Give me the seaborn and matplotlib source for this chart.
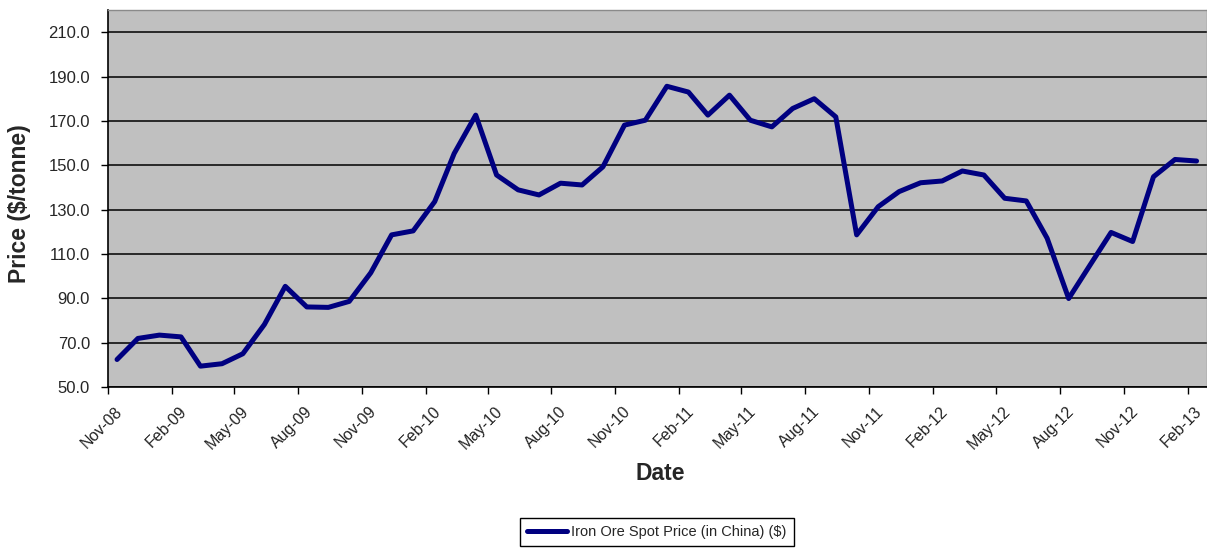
import pandas as pd
import seaborn as sns
import matplotlib.pyplot as plt
import matplotlib.dates as mdates
import matplotlib.transforms as mtransforms
from matplotlib.ticker import FormatStrFormatter

sns.set_style('white')
plt.rcParams['font.family'] = ['Liberation Sans', 'DejaVu Sans']

# monthly iron ore spot price, Nov-08 .. Feb-13
months = pd.date_range('2008-11-01', '2013-02-01', freq='MS') + pd.Timedelta(days=13)
prices = [62.4, 71.9, 73.4, 72.6, 59.4, 60.5, 65.0, 78.2, 95.4, 86.1,
          85.9, 88.6, 101.5, 118.6, 120.4, 133.6, 155.3, 172.6, 145.6, 138.9,
          136.6, 141.9, 141.1, 149.3, 168.1, 170.3, 185.6, 183.0, 172.6, 181.6,
          170.3, 167.3, 175.6, 180.0, 171.8, 118.6, 131.3, 138.1, 142.1, 142.9,
          147.4, 145.6, 135.1, 133.9, 117.1, 89.9, 105.1, 119.7, 115.6, 144.8,
          152.6, 151.9]
series_name = 'Iron Ore Spot Price (in China) ($)'

df = pd.DataFrame({'Date': months, 'Price': prices})

fig = plt.figure(figsize=(12.07, 5.5), dpi=100)
ax = fig.add_axes([108 / 1207, 1 - 387 / 550, 1 - 108 / 1207, 377 / 550])
ax.set_facecolor('#C0C0C0')

sns.lineplot(data=df, x='Date', y='Price', ax=ax, color='#000080',
             linewidth=3.6, label=series_name, legend=False)

ax.set_ylim(50, 220)
ax.set_xlim(pd.Timestamp('2008-11-01'), pd.Timestamp('2013-03-01'))
ax.set_yticks(range(50, 211, 20))
ax.yaxis.set_major_formatter(FormatStrFormatter('%.1f'))
ax.xaxis.set_major_locator(mdates.MonthLocator(bymonth=[2, 5, 8, 11], bymonthday=1))
ax.xaxis.set_major_formatter(mdates.DateFormatter('%b-%y'))

ax.grid(axis='y', color='black', linewidth=1.1)
ax.set_axisbelow(True)
for s in ['left', 'bottom']:
    ax.spines[s].set_color('black')
    ax.spines[s].set_linewidth(1.2)
for s in ['top', 'right']:
    ax.spines[s].set_color('#8a8a8a')
    ax.spines[s].set_linewidth(1.0)

ax.tick_params(axis='y', direction='out', length=5, width=1, color='black',
               labelsize=12, pad=8, left=True)
ax.tick_params(axis='x', direction='out', length=5, width=1, color='black',
               labelsize=11.5, pad=7, bottom=True, labelcolor='#222222')
# nudge rotated date labels a little right, like Excel does
shift = mtransforms.ScaledTranslation(7 / 100, 0, fig.dpi_scale_trans)
for lbl in ax.get_xticklabels():
    lbl.set_rotation(45)
    lbl.set_ha('right')
    lbl.set_va('top')
    lbl.set_rotation_mode('anchor')
    lbl.set_transform(lbl.get_transform() + shift)

ax.set_ylabel('')
ax.set_xlabel('')
fig.text(20 / 1207, 1 - 204 / 550, 'Price ($/tonne)', rotation=90, fontsize=16.5,
         fontweight='bold', ha='center', va='center')
fig.text(660 / 1207, 1 - 473 / 550, 'Date', fontsize=16.5, fontweight='bold',
         ha='center', va='center')

handles, labels = ax.get_legend_handles_labels()
leg = fig.legend(handles, labels, loc='center', bbox_to_anchor=(657 / 1207, 1 - 532 / 550),
                 fancybox=False, edgecolor='black', framealpha=1, fontsize=10.5,
                 handlelength=2.7, handletextpad=0.3, borderpad=0.5, borderaxespad=0)
leg.get_frame().set_linewidth(1.0)

fig.savefig('out.png', dpi=100)
